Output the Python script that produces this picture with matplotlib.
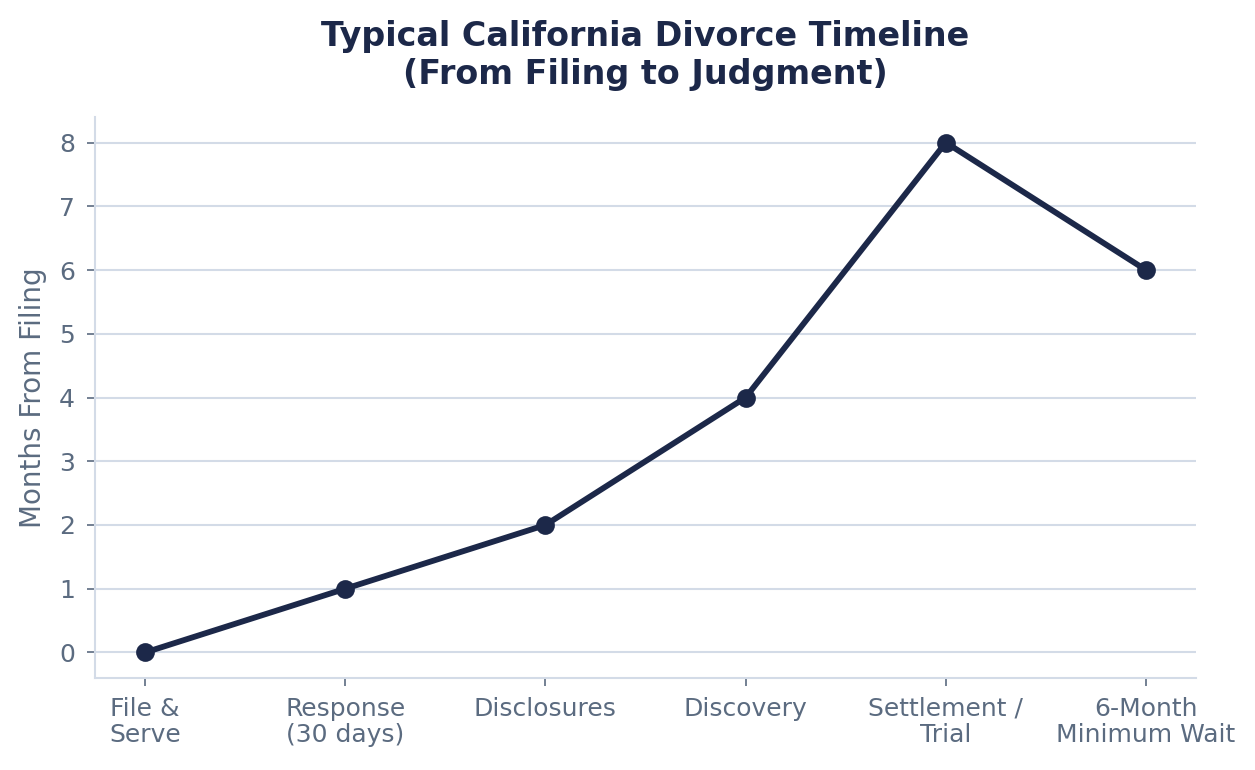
import matplotlib
matplotlib.use("Agg")
import matplotlib.pyplot as plt

stages = ["File &\nServe", "Response\n(30 days)", "Disclosures", "Discovery", "Settlement /\nTrial", "6-Month\nMinimum Wait"]
months = [0, 1, 2, 4, 8, 6]
yticks = [0, 1, 2, 3, 4, 5, 6, 7, 8]

navy = "#1c2849"
slate = "#5b6b80"
light = "#d3dbe7"

fig = plt.figure(figsize=(1255/150, 770/150), dpi=150)
ax = fig.add_axes([0.0757, 0.1195, 0.8773, 0.7285])

x = list(range(len(stages)))
ax.plot(x, months, color=navy, linewidth=2.8, marker="o", markersize=8, zorder=3)

ax.set_xticks(x)
ax.set_xticklabels(stages, fontsize=12, color=slate, linespacing=1.1)
ax.set_yticks(yticks)
ax.tick_params(axis="y", labelsize=12, labelcolor=slate, color=slate, length=4, pad=5.5)
ax.tick_params(axis="x", labelsize=12, labelcolor=slate, color=slate, length=4, pad=5)
ax.yaxis.grid(True, color=light, linewidth=1)
ax.set_axisbelow(True)
for s in ["top", "right"]:
    ax.spines[s].set_visible(False)
for s in ["left", "bottom"]:
    ax.spines[s].set_color(light)
    ax.spines[s].set_linewidth(1)

ax.set_ylabel("Months From Filing", fontsize=13.3, color=slate, labelpad=6)
ax.set_title("Typical California Divorce Timeline\n(From Filing to Judgment)", fontsize=16,
             fontweight="bold", color=navy, pad=16)

fig.savefig("out.png", dpi=150)
